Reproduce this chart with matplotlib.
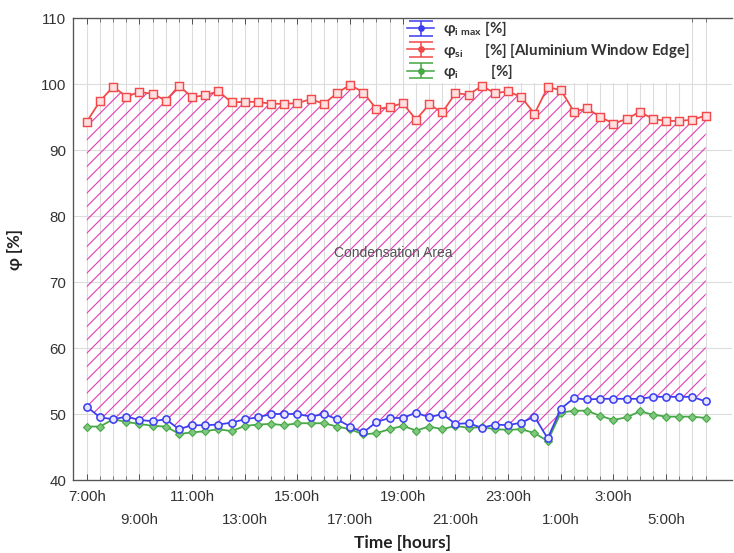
import numpy as np
import matplotlib
matplotlib.use("Agg")
import matplotlib.pyplot as plt

# ---- data (half-hourly readings from 7:00h to 6:30h) ----
hours = ["7:00h", "9:00h", "11:00h", "13:00h", "15:00h", "17:00h",
         "19:00h", "21:00h", "23:00h", "1:00h", "3:00h", "5:00h"]

phi_si = [94.3, 97.4, 99.6, 98.1, 98.8, 98.5, 97.5, 99.7, 98.0, 98.3,
          98.9, 97.2, 97.3, 97.3, 97.0, 97.0, 97.1, 97.7, 97.0, 98.6,
          99.9, 98.7, 96.2, 96.5, 97.1, 94.6, 96.9, 95.7, 98.6, 98.4,
          99.7, 98.6, 98.9, 98.0, 95.5, 99.5, 99.1, 95.8, 96.3, 95.0,
          94.0, 94.7, 95.8, 94.7, 94.4, 94.4, 94.6, 95.2]

phi_imax = [51.1, 49.5, 49.2, 49.6, 49.1, 48.9, 49.2, 47.7, 48.3, 48.3,
            48.4, 48.7, 49.2, 49.5, 50.0, 50.0, 50.0, 49.6, 50.0, 49.2,
            48.1, 47.2, 48.8, 49.4, 49.4, 50.2, 49.5, 50.0, 48.5, 48.6,
            47.9, 48.4, 48.3, 48.7, 49.6, 46.3, 50.8, 52.4, 52.2, 52.3,
            52.3, 52.3, 52.3, 52.6, 52.6, 52.6, 52.6, 51.9]

phi_i = [48.1, 48.1, 49.2, 48.8, 48.5, 48.2, 48.1, 47.0, 47.2, 47.4,
         47.7, 47.4, 48.2, 48.4, 48.5, 48.3, 48.6, 48.6, 48.6, 48.1,
         47.7, 46.9, 47.1, 47.7, 48.2, 47.5, 48.1, 47.7, 48.2, 47.9,
         48.0, 47.7, 47.6, 47.7, 47.1, 45.9, 50.2, 50.5, 50.5, 49.7,
         49.1, 49.5, 50.4, 49.9, 49.6, 49.6, 49.6, 49.4]

labels = [r"φ$_{\mathregular{i\ max}}$ [%]",
          r"φ$_{\mathregular{si}}$      [%] [Aluminium Window Edge]",
          r"φ$_{\mathregular{i}}$         [%]"]

# ---- figure ----
DPI = 80
plt.rcParams["hatch.linewidth"] = 1.0
plt.rcParams["font.family"] = ["Liberation Sans", "DejaVu Sans"]
fig = plt.figure(figsize=(734 / DPI, 553 / DPI), dpi=DPI)
ax = fig.add_axes([73 / 734, 1 - 480 / 553, (732 - 73) / 734, (480 - 18) / 553])

x = np.arange(len(phi_si))

red = "#f24a4a"
blue = "#3d3df0"
green = "#45a845"
mag = "#e03cb4"

ax.fill_between(x, phi_imax, phi_si, facecolor="none", edgecolor=mag,
                hatch="//", linewidth=0, zorder=1)

ax.plot(x, phi_si, color=red, lw=1.6, marker="s", ms=6.5, mfc="#ffe0e0",
        mec=red, mew=1.3, zorder=3)
ax.plot(x, phi_imax, color=blue, lw=1.6, marker="o", ms=6.5, mfc="#e4e4ff",
        mec=blue, mew=1.4, zorder=4)
ax.plot(x, phi_i, color=green, lw=1.6, marker="D", ms=4.5, mfc="#7fc77f",
        mec=green, mew=1.0, zorder=3)

# legend proxies in error-bar style
handles = []
for c in (blue, red, green):
    h = ax.errorbar([np.nan], [np.nan], yerr=[1], color=c, marker="o",
                    ms=5, capsize=11, lw=1.4, elinewidth=1.4, capthick=1.4)
    handles.append(h)
leg = ax.legend(handles, labels, loc="upper left",
                bbox_to_anchor=(405 / 734, 1 - 17 / 553),
                bbox_transform=fig.transFigure,
                frameon=True, facecolor="white", edgecolor="none",
                framealpha=1.0, fancybox=False, borderpad=0.15,
                borderaxespad=0.0,
                handlelength=1.8, handletextpad=0.6,
                labelspacing=0.15,
                prop={"family": ["Lato", "DejaVu Sans"], "size": 13.5,
                      "weight": "bold"})
leg.set_zorder(2)
for t in leg.get_texts():
    t.set_color("#333333")

ax.set_xlim(-1.05, 49.0)
ax.set_ylim(40, 110)
ax.set_yticks(np.arange(40, 111, 10))

major = np.arange(0, len(x), 4)
ax.set_xticks(major)
ax.set_xticks(x, minor=True)
tick_text = [h if i % 2 == 0 else "\n" + h for i, h in enumerate(hours)]
ax.set_xticklabels(tick_text)
for t in ax.get_xticklabels():
    t.set_linespacing(1.85)

ax.tick_params(axis="both", which="both", direction="in", top=True,
               colors="#444444", labelcolor="#333333", labelsize=13.5)
ax.tick_params(axis="x", which="major", length=5, pad=9)
ax.tick_params(axis="x", which="minor", length=4)
ax.tick_params(axis="y", length=0, pad=6)

ax.grid(axis="x", which="both", color="#dcdcdc", lw=1.0)
ax.grid(axis="y", which="major", color="#dcdcdc", lw=1.0)
ax.set_axisbelow(True)

for s in ax.spines.values():
    s.set_color("#555555")
    s.set_linewidth(1.2)
ax.spines["right"].set_visible(False)

ax.text(23.3, 74.4, "Condensation Area", ha="center", va="center",
        fontsize=12.5, color="#555555", family=["Liberation Sans"])

ax.set_xlabel("Time [hours]", fontsize=15.5, fontweight="bold",
              family=["Lato", "DejaVu Sans"], color="#222222", labelpad=7)
ax.set_ylabel("φ [%]", fontsize=15, fontweight="bold",
              family=["Lato", "DejaVu Sans"], color="#222222", labelpad=16)

fig.savefig("out.png", dpi=DPI)
